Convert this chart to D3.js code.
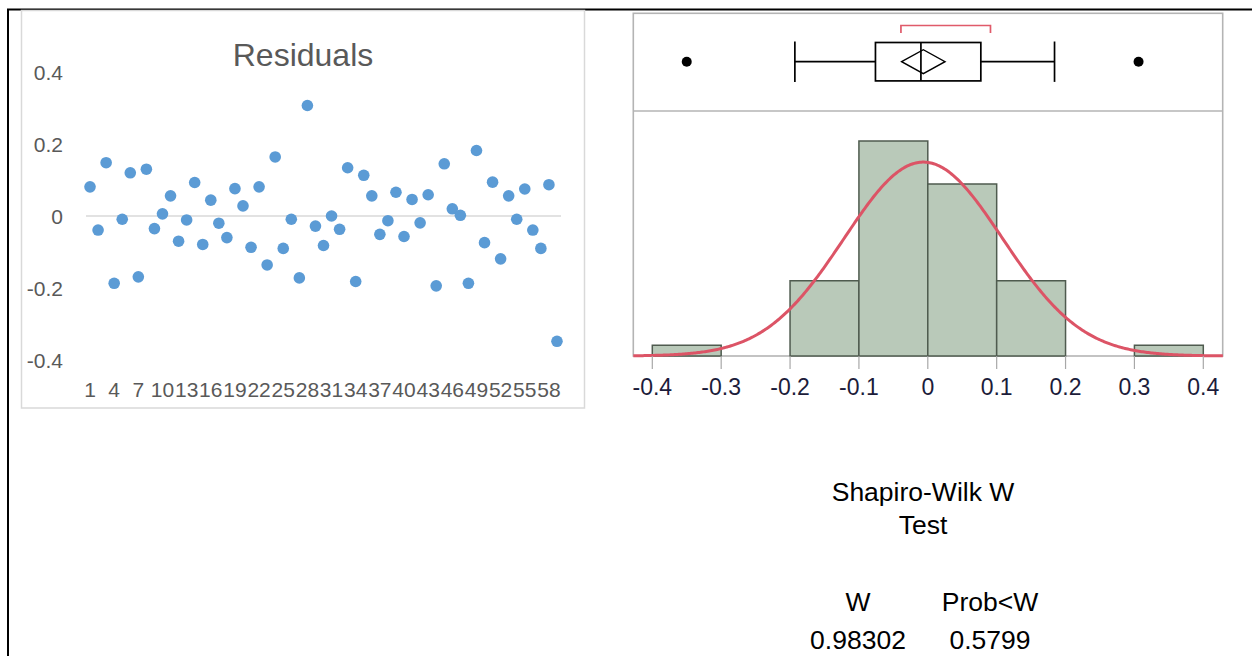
<!DOCTYPE html>
<html>
<head>
<meta charset="utf-8">
<script src="https://cdn.jsdelivr.net/npm/d3@7"></script>
<style>
body { margin: 0; background: #fff; }
svg { display: block; }
</style>
</head>
<body>
<svg width="1252" height="656"></svg>
<script>
// residuals, rows 1..59
var residuals = [0.081, -0.039, 0.148, -0.187, -0.009, 0.120, -0.169, 0.130, -0.035, 0.006,
	0.056, -0.070, -0.011, 0.093, -0.079, 0.044, -0.020, -0.060, 0.076, 0.028,
	-0.087, 0.081, -0.136, 0.164, -0.090, -0.009, -0.172, 0.307, -0.028, -0.082,
	0.000, -0.037, 0.134, -0.182, 0.113, 0.056, -0.051, -0.013, 0.066, -0.057,
	0.046, -0.019, 0.059, -0.194, 0.145, 0.020, 0.002, -0.187, 0.182, -0.074,
	0.094, -0.119, 0.056, -0.009, 0.075, -0.039, -0.090, 0.087, -0.348];
var yTicks = [-0.4, -0.2, 0, 0.2, 0.4];
var yTickLabels = ["-0.4", "-0.2", "0", "0.2", "0.4"];

// JMP distribution
var binEdges = [-0.4, -0.3, -0.2, -0.1, 0, 0.1, 0.2, 0.3, 0.4];
var binCounts = [1, 0, 7, 20, 16, 7, 0, 1];
var histTicks = [-0.4, -0.3, -0.2, -0.1, 0, 0.1, 0.2, 0.3, 0.4];
var histTickLabels = ["-0.4", "-0.3", "-0.2", "-0.1", "0", "0.1", "0.2", "0.3", "0.4"];
var normalFit = [-0.0065, 0.115]; // mean, sd
var quartiles = [-0.076, -0.010, 0.077];
var whiskers = [-0.193, 0.184];
var outliers = [-0.350, 0.306];
var meanDiamond = [-0.038, -0.0065, 0.025];
var shortestHalf = [-0.039, 0.091];

var swTitle = ["Shapiro-Wilk W", "Test"];
var swLabels = ["W", "Prob<W"];
var swValues = ["0.98302", "0.5799"];

var svg = d3.select("svg");
var font = "Liberation Sans, Arial, sans-serif";

// table borders
svg.append("path")
	.attr("d", "M7,9.5H1252M8,9V656")
	.attr("stroke", "#000").attr("stroke-width", 2).attr("fill", "none");

// ---------- Excel residual scatter ----------
svg.append("rect")
	.attr("x", 21.5).attr("y", 10.5).attr("width", 563).attr("height", 397.5)
	.attr("fill", "#fff").attr("stroke", "#d9d9d9").attr("stroke-width", 1.5);

var x = d3.scaleBand()
	.domain(d3.range(1, residuals.length + 1))
	.range([86, 561]);
var y = d3.scaleLinear().domain([-0.4, 0.4]).range([360, 72]);

svg.append("text")
	.attr("x", 303).attr("y", 66)
	.attr("text-anchor", "middle")
	.attr("font-family", font)
	.attr("font-size", 32).attr("fill", "#595959")
	.text("Residuals");

svg.append("line")
	.attr("x1", 86).attr("x2", 561)
	.attr("y1", y(0)).attr("y2", y(0))
	.attr("stroke", "#d9d9d9").attr("stroke-width", 1.5);

svg.append("g").selectAll("text")
	.data(yTicks)
	.enter().append("text")
	.attr("x", 63)
	.attr("y", function(d) { return y(d) + 7.5; })
	.attr("text-anchor", "end")
	.attr("font-family", font)
	.attr("font-size", 21).attr("fill", "#595959")
	.text(function(d, i) { return yTickLabels[i]; });

svg.append("g").selectAll("text")
	.data(x.domain().filter(function(d) { return (d - 1) % 3 === 0; }))
	.enter().append("text")
	.attr("x", function(d) { return x(d) + x.bandwidth() / 2; })
	.attr("y", 397)
	.attr("text-anchor", "middle")
	.attr("font-family", font)
	.attr("font-size", 21).attr("fill", "#595959")
	.text(function(d) { return d; });

svg.append("g").selectAll("circle")
	.data(residuals)
	.enter().append("circle")
	.attr("cx", function(d, i) { return x(i + 1) + x.bandwidth() / 2; })
	.attr("cy", function(d) { return y(d); })
	.attr("r", 5.8)
	.attr("fill", "#5b9bd5");

// ---------- JMP distribution ----------
var hx = d3.scaleLinear().domain([-0.4, 0.4]).range([652.3, 1203.3]);
var hy = d3.scaleLinear().domain([0, 20]).range([356, 141]);
var panelL = 633.3, panelR = 1222.7, panelT = 13.3, panelMid = 111, base = 356;

svg.append("rect")
	.attr("x", panelL).attr("y", panelT).attr("width", panelR - panelL).attr("height", base - panelT)
	.attr("fill", "#fff").attr("stroke", "#b4b4b4").attr("stroke-width", 1.6);
svg.append("line")
	.attr("x1", panelL).attr("x2", panelR).attr("y1", panelMid).attr("y2", panelMid)
	.attr("stroke", "#b4b4b4").attr("stroke-width", 1.6);

// bars
var bars = binCounts.map(function(c, i) { return {x0: binEdges[i], x1: binEdges[i + 1], n: c}; })
	.filter(function(b) { return b.n > 0; });
svg.append("g").selectAll("rect")
	.data(bars)
	.enter().append("rect")
	.attr("x", function(d) { return hx(d.x0); })
	.attr("y", function(d) { return hy(d.n); })
	.attr("width", function(d) { return hx(d.x1) - hx(d.x0); })
	.attr("height", function(d) { return hy(0) - hy(d.n); })
	.attr("fill", "#b9c9b9")
	.attr("stroke", "#4f5b4f").attr("stroke-width", 1.5);

// fitted normal, scaled to counts per bin
var total = d3.sum(binCounts);
var binW = binEdges[1] - binEdges[0];
var curve = d3.range(hx.invert(panelL), hx.invert(panelR) + 0.0005, 0.002).map(function(v) {
	var z = (v - normalFit[0]) / normalFit[1];
	return [v, total * binW * Math.exp(-z * z / 2) / (normalFit[1] * Math.sqrt(2 * Math.PI))];
});
svg.append("path")
	.datum(curve)
	.attr("d", d3.line().x(function(d) { return hx(d[0]); }).y(function(d) { return hy(d[1]); }))
	.attr("fill", "none").attr("stroke", "#dc5466").attr("stroke-width", 3);

// axis
var axis = svg.append("g");
axis.selectAll("line")
	.data(histTicks)
	.enter().append("line")
	.attr("x1", function(d) { return hx(d); }).attr("x2", function(d) { return hx(d); })
	.attr("y1", base).attr("y2", base + 13)
	.attr("stroke", "#a8a8a8").attr("stroke-width", 1.2);
axis.selectAll("text")
	.data(histTicks)
	.enter().append("text")
	.attr("x", function(d) { return hx(d); })
	.attr("y", 395)
	.attr("text-anchor", "middle")
	.attr("font-family", font)
	.attr("font-size", 23).attr("fill", "#1c1c3a")
	.text(function(d, i) { return histTickLabels[i]; });

// box plot
var cy = 61.7, bh = 19.2;
var box = svg.append("g").attr("stroke", "#000").attr("stroke-width", 1.7).attr("fill", "none");
box.append("line")
	.attr("x1", hx(whiskers[0])).attr("x2", hx(quartiles[0])).attr("y1", cy).attr("y2", cy);
box.append("line")
	.attr("x1", hx(quartiles[2])).attr("x2", hx(whiskers[1])).attr("y1", cy).attr("y2", cy);
box.selectAll(".cap")
	.data(whiskers)
	.enter().append("line")
	.attr("x1", function(d) { return hx(d); }).attr("x2", function(d) { return hx(d); })
	.attr("y1", cy - bh - 1).attr("y2", cy + bh + 1);
box.append("rect")
	.attr("x", hx(quartiles[0])).attr("y", cy - bh)
	.attr("width", hx(quartiles[2]) - hx(quartiles[0])).attr("height", 2 * bh);
box.append("line")
	.attr("x1", hx(quartiles[1])).attr("x2", hx(quartiles[1]))
	.attr("y1", cy - bh).attr("y2", cy + bh);
box.append("path")
	.attr("d", "M" + hx(meanDiamond[0]) + "," + cy +
		"L" + hx(meanDiamond[1]) + "," + (cy - 12) +
		"L" + hx(meanDiamond[2]) + "," + cy +
		"L" + hx(meanDiamond[1]) + "," + (cy + 12) + "Z")
	.attr("stroke-width", 1.4);

svg.append("g").selectAll("circle")
	.data(outliers)
	.enter().append("circle")
	.attr("cx", function(d) { return hx(d); }).attr("cy", cy)
	.attr("r", 5).attr("fill", "#000");

svg.append("path")
	.attr("d", "M" + hx(shortestHalf[0]) + ",33V25.5H" + hx(shortestHalf[1]) + "V33")
	.attr("fill", "none").attr("stroke", "#e05a6a").attr("stroke-width", 1.7);

// Shapiro-Wilk text
var txt = svg.append("g")
	.attr("font-family", font)
	.attr("font-size", 26.5).attr("fill", "#000").attr("text-anchor", "middle");
txt.selectAll(".t")
	.data(swTitle)
	.enter().append("text")
	.attr("x", 923).attr("y", function(d, i) { return 501 + i * 33; })
	.text(function(d) { return d; });
txt.selectAll(".l")
	.data(swLabels)
	.enter().append("text")
	.attr("x", function(d, i) { return i === 0 ? 858 : 990; }).attr("y", 611)
	.text(function(d) { return d; });
txt.selectAll(".v")
	.data(swValues)
	.enter().append("text")
	.attr("x", function(d, i) { return i === 0 ? 858 : 990; }).attr("y", 649)
	.text(function(d) { return d; });
</script>
</body>
</html>
